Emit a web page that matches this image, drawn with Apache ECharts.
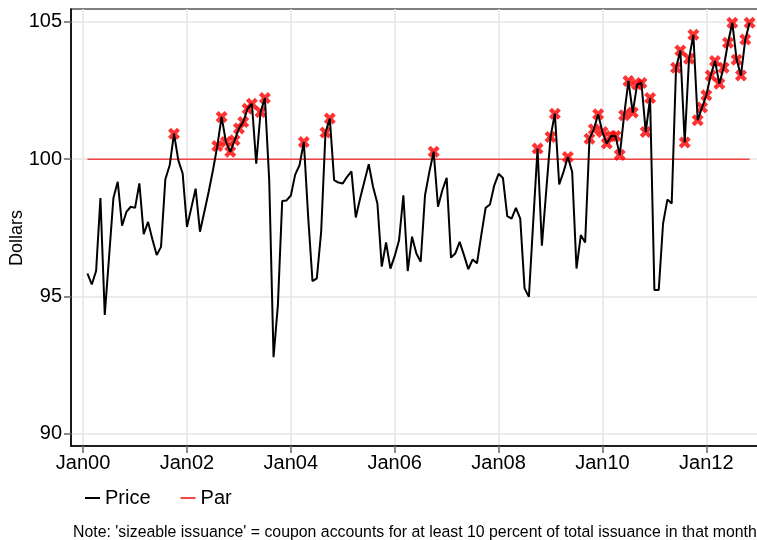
<!DOCTYPE html>
<html>
<head>
<meta charset="utf-8">
<script src="https://cdn.jsdelivr.net/npm/echarts@6/dist/echarts.min.js"></script>
<style>
  html, body { margin: 0; padding: 0; background: #fff; }
  #chart { width: 757px; height: 540px; }
</style>
</head>
<body>
<div id="chart"></div>
<script>
// months counted from Jan 2000 (0 = Jan00)
const firstMonth = 1
const price = [
  95.84, 95.44, 95.93, 98.59, 94.33, 96.46, 98.59, 99.18, 97.58, 98.08, 98.27, 98.23,
  99.12, 97.27, 97.72, 97.09, 96.51, 96.81, 99.27, 99.78, 100.93, 99.96, 99.48, 97.54,
  98.23, 98.93, 97.36, 98.08, 98.81, 99.6, 100.48, 101.54, 100.63, 100.27, 100.69, 101.12,
  101.36, 101.84, 102.02, 99.84, 101.72, 102.23, 99.24, 92.79, 94.69, 98.48, 98.5, 98.68,
  99.44, 99.78, 100.63, 97.9, 95.56, 95.66, 97.36, 100.97, 101.48, 99.24, 99.15, 99.12,
  99.36, 99.56, 97.88, 98.57, 99.2, 99.82, 98.99, 98.39, 96.09, 96.97, 96.02, 96.48,
  97.05, 98.69, 95.93, 97.18, 96.57, 96.27, 98.69, 99.54, 100.27, 98.27, 98.87, 99.32,
  96.42, 96.57, 96.99, 96.51, 96.0, 96.35, 96.21, 97.24, 98.23, 98.35, 99.05, 99.47,
  99.32, 97.93, 97.84, 98.23, 97.84, 95.3, 94.99, 97.72, 100.39, 96.85, 98.84, 100.81,
  101.66, 99.08, 99.54, 100.08, 99.54, 96.02, 97.24, 96.97, 100.75, 101.09, 101.64, 100.99,
  100.57, 100.85, 100.85, 100.15, 101.6, 102.85, 101.7, 102.72, 102.78, 100.99, 102.23, 95.24,
  95.24, 97.66, 98.53, 98.39, 103.33, 103.96, 100.61, 103.66, 104.53, 101.42, 101.88, 102.33,
  103.05, 103.58, 102.75, 103.33, 104.24, 104.97, 103.62, 103.05, 104.36, 104.97
]
const par = 100
// months with sizeable issuance (red markers)
const issuanceMonths = [
  21, 31, 32, 33, 34, 35, 36, 37, 38, 39, 41, 42, 51, 56, 57, 81, 105, 108, 109, 112,
  117, 118, 119, 120, 121, 122, 123, 124, 125, 126, 127, 128, 129, 130, 131,
  137, 138, 139, 140, 141, 142, 143, 144, 145, 146, 147, 148, 149, 150, 151, 152, 153, 154
]
const xTickMonths = [0, 24, 48, 72, 96, 120, 144]
const xTickLabels = ['Jan00', 'Jan02', 'Jan04', 'Jan06', 'Jan08', 'Jan10', 'Jan12']
const yTicks = [90, 95, 100, 105]

const priceData = price.map((v, i) => [firstMonth + i, v])
const parData = price.map((v, i) => [firstMonth + i, par])
const markData = issuanceMonths.map(m => [m, price[m - firstMonth]])

const font = 'Liberation Sans, Arial, sans-serif'
// thick "x" marker
const xMark = 'path://M2.5,0 L5,2.5 L7.5,0 L10,2.5 L7.5,5 L10,7.5 L7.5,10 L5,7.5 L2.5,10 L0,7.5 L2.5,5 L0,2.5 Z'

const chart = echarts.init(document.getElementById('chart'))
chart.setOption({
  animation: false,
  textStyle: { fontFamily: font },
  grid: {
    left: 71, top: 9, right: -3, bottom: 94,
    containLabel: false, outerBoundsMode: 'none',
    show: true, borderColor: '#000', borderWidth: 1.2
  },
  legend: {
    left: 80, top: 483,
    itemWidth: 15, itemHeight: 2, itemGap: 30,
    icon: 'rect',
    textStyle: { fontSize: 20, color: '#000', fontFamily: font },
    data: [
      { name: 'Price', itemStyle: { color: '#000' } },
      { name: 'Par', itemStyle: { color: '#f04848' } }
    ]
  },
  xAxis: {
    type: 'value',
    min: -2.8, max: 156.4,
    axisLine: { show: true, onZero: false, lineStyle: { color: '#000', width: 1.5 } },
    axisTick: { show: true, length: 7, customValues: xTickMonths, lineStyle: { color: '#666', width: 1.5 } },
    axisLabel: {
      customValues: xTickMonths, margin: 7, fontSize: 20, color: '#000',
      formatter: v => xTickLabels[xTickMonths.indexOf(v)]
    },
    splitLine: { show: true, lineStyle: { color: '#e4e4e4', width: 1.5 } }
  },
  yAxis: {
    type: 'value',
    min: 89.56, max: 105.47,
    axisLine: { show: true, onZero: false, lineStyle: { color: '#000', width: 1.5 } },
    axisTick: { show: true, length: 7, customValues: yTicks, lineStyle: { color: '#666', width: 1.5 } },
    axisLabel: { customValues: yTicks, margin: 9, fontSize: 20, color: '#000' },
    splitLine: { show: true, lineStyle: { color: '#e4e4e4', width: 1.5 } }
  },
  series: [
    {
      name: 'Par', type: 'line', data: parData, symbol: 'none',
      lineStyle: { color: '#f04848', width: 1.3 }, itemStyle: { color: '#f04848' }, z: 2
    },
    {
      name: 'Issuance', type: 'scatter', data: markData,
      symbol: xMark, symbolSize: 12, itemStyle: { color: '#ff0000' }, z: 3
    },
    {
      name: 'Price', type: 'line', data: priceData, symbol: 'none',
      lineStyle: { color: '#000', width: 2 }, itemStyle: { color: '#000' }, z: 4
    }
  ],
  graphic: [
    {
      type: 'text', x: 17, y: 238, rotation: Math.PI / 2,
      style: {
        text: 'Dollars', font: '18px ' + font, fill: '#000',
        align: 'center', verticalAlign: 'middle'
      }
    },
    {
      type: 'text', left: 73, top: 525,
      style: {
        text: "Note: 'sizeable issuance' = coupon accounts for at least 10 percent of total issuance in that month",
        font: '15.85px ' + font, fill: '#000'
      }
    }
  ]
})
</script>
</body>
</html>
